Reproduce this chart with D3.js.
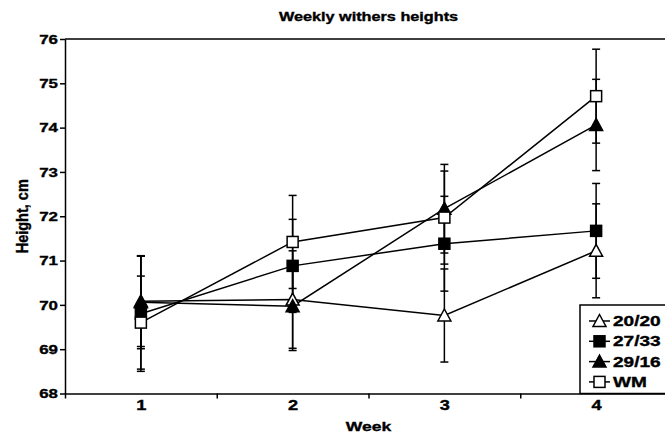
<!DOCTYPE html>
<html>
<head>
<meta charset="utf-8">
<script src="https://cdn.jsdelivr.net/npm/d3@7"></script>
<style>
  body { margin: 0; background: #fff; }
  text { font-family: "Liberation Sans", Arial, sans-serif; font-weight: bold; fill: #000; stroke: #000; stroke-width: 0.35px; }
  .axis path, .axis line { stroke: #000; stroke-width: 1.5; }
  .axis text { font-size: 14px; }
</style>
</head>
<body>
<script>
// data
var weeks = [1, 2, 3, 4];
var series = ["20/20", "27/33", "29/16", "WM"];
var h2020 = [70.08, 70.12, 69.76, 71.22];
var sd2020 = [1.02, 1.1, 1.05, 1.06];
var h2733 = [69.8, 70.88, 71.38, 71.67];
var sd2733 = [1.3, 1.05, 1.07, 1.07];
var h2916 = [70.06, 69.97, 72.17, 74.06];
var sd2916 = [1.05, 1.0, 1.0, 1.03];
var hWM = [69.6, 71.42, 71.97, 74.71];
var sdWM = [1.05, 1.05, 1.05, 1.06];
var yTicks = [68, 69, 70, 71, 72, 73, 74, 75, 76];

var means = [h2020, h2733, h2916, hWM];
var sds = [sd2020, sd2733, sd2916, sdWM];
var markers = ["triOpen", "sqFill", "triFill", "sqOpen"];

var width = 665, height = 434;
var plotL = 65, plotR = 672, plotT = 39, plotB = 393.5;
var stretch = 1.3; // the reference text is a bit wide

var svg = d3.select("body").append("svg")
    .attr("width", width)
    .attr("height", height);

// scales
var x = d3.scaleLinear().domain([0.5, 4.5]).range([plotL, plotR]);
var y = d3.scaleLinear().domain([68, 76]).range([plotB, plotT]);

// frame top + right
svg.append("path")
    .attr("d", "M" + plotL + "," + plotT + "H" + plotR + "V" + plotB)
    .attr("fill", "none")
    .attr("stroke", "#000")
    .attr("stroke-width", 1.5);

// x axis: ticks at the band edges, labels at the centres
svg.append("g")
    .attr("class", "axis")
    .attr("transform", "translate(0," + plotB + ")")
    .call(d3.axisBottom(x).tickValues([0.5, 1.5, 2.5, 3.5, 4.5]).tickFormat("").tickSize(5).tickSizeOuter(0));

svg.append("g")
    .attr("class", "axis")
    .attr("transform", "translate(0," + plotB + ")")
    .call(d3.axisBottom(x).tickValues(weeks).tickFormat(d3.format("d")).tickSize(0).tickPadding(7))
    .call(function(g) {
        g.select(".domain").remove();
        g.selectAll("text").style("font-size", "14px").attr("transform", "scale(" + stretch + ",1)");
    });

// y axis
svg.append("g")
    .attr("class", "axis")
    .attr("transform", "translate(" + plotL + ",0)")
    .call(d3.axisLeft(y).tickValues(yTicks).tickSize(5).tickSizeOuter(0))
    .call(function(g) {
        g.selectAll("text")
            .style("font-size", "13px")
            .attr("x", -7 / stretch)
            .attr("transform", "scale(" + stretch + ",1)");
    });

// titles
svg.append("text")
    .attr("transform", "translate(" + ((plotL + plotR) / 2) + ",21) scale(" + stretch + ",1)")
    .attr("text-anchor", "middle")
    .style("font-size", "12.5px")
    .text("Weekly withers heights");

svg.append("text")
    .attr("transform", "translate(" + ((plotL + plotR) / 2) + ",431) scale(" + stretch + ",1)")
    .attr("text-anchor", "middle")
    .style("font-size", "13.5px")
    .text("Week");

svg.append("text")
    .attr("transform", "translate(28," + ((plotT + plotB) / 2) + ") scale(1.15,1) rotate(-90)")
    .attr("text-anchor", "middle")
    .style("font-size", "14.5px")
    .text("Height, cm");

// lines
var line = d3.line()
    .x(function(d, i) { return x(weeks[i]); })
    .y(function(d) { return y(d); });

means.forEach(function(m) {
    svg.append("path")
        .datum(m)
        .attr("d", line)
        .attr("fill", "none")
        .attr("stroke", "#000")
        .attr("stroke-width", 1.5);
});

// error bars
means.forEach(function(m, s) {
    var g = svg.append("g").attr("stroke", "#000").attr("stroke-width", 1.5);
    m.forEach(function(v, i) {
        var cx = x(weeks[i]);
        var hi = y(v + sds[s][i]), lo = y(v - sds[s][i]);
        g.append("line").attr("x1", cx).attr("x2", cx).attr("y1", hi).attr("y2", lo);
        g.append("line").attr("x1", cx - 4).attr("x2", cx + 4).attr("y1", hi).attr("y2", hi);
        g.append("line").attr("x1", cx - 4).attr("x2", cx + 4).attr("y1", lo).attr("y2", lo);
    });
});

// markers
function drawMarker(g, type, cx, cy) {
    var fill = (type == "triOpen" || type == "sqOpen") ? "#fff" : "#000";
    if (type == "sqOpen" || type == "sqFill") {
        g.append("rect")
            .attr("x", cx - 5.5).attr("y", cy - 5.5)
            .attr("width", 11).attr("height", 11)
            .attr("fill", fill).attr("stroke", "#000").attr("stroke-width", 1.5);
    } else {
        g.append("path")
            .attr("d", "M" + cx + "," + (cy - 6.5) + "L" + (cx + 6.5) + "," + (cy + 5.5) + "L" + (cx - 6.5) + "," + (cy + 5.5) + "Z")
            .attr("fill", fill).attr("stroke", "#000").attr("stroke-width", 1.5);
    }
}

means.forEach(function(m, s) {
    m.forEach(function(v, i) {
        drawMarker(svg, markers[s], x(weeks[i]), y(v));
    });
});

// legend
var legend = svg.append("g");
legend.append("rect")
    .attr("x", 580).attr("y", 305)
    .attr("width", 100).attr("height", plotB - 305)
    .attr("fill", "#fff").attr("stroke", "#000").attr("stroke-width", 1.5);

series.forEach(function(name, s) {
    var ly = 321 + s * 20.3;
    legend.append("line")
        .attr("x1", 589).attr("x2", 610).attr("y1", ly).attr("y2", ly)
        .attr("stroke", "#000").attr("stroke-width", 1.5);
    drawMarker(legend, markers[s], 599.5, ly);
    legend.append("text")
        .attr("transform", "translate(613," + ly + ") scale(1.36,1)")
        .attr("dy", ".36em")
        .style("font-size", "14px")
        .text(name);
});
</script>
</body>
</html>
